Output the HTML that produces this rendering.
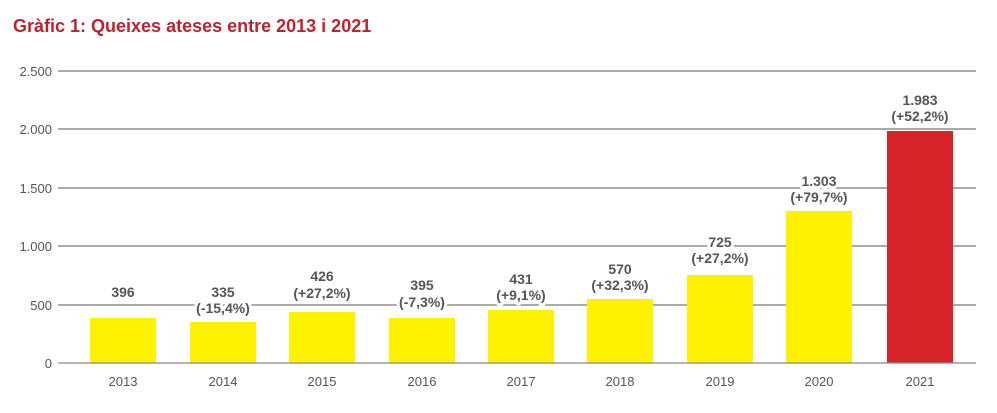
<!DOCTYPE html>
<html><head><meta charset="utf-8"><style>
html,body{margin:0;padding:0;background:#fff;}
body{width:997px;height:408px;overflow:hidden;font-family:"Liberation Sans",sans-serif;}
</style></head><body>
<svg width="997" height="408" xmlns="http://www.w3.org/2000/svg" font-family="Liberation Sans, sans-serif">
<text x="13" y="32" font-size="18" font-weight="bold" fill="#c0212f">Gràfic 1: Queixes ateses entre 2013 i 2021</text>
<g stroke="#555" stroke-width="1">
<line x1="58" y1="71" x2="976" y2="71"/>
<line x1="58" y1="129" x2="976" y2="129"/>
<line x1="58" y1="188" x2="976" y2="188"/>
<line x1="58" y1="246" x2="976" y2="246"/>
<line x1="58" y1="305" x2="976" y2="305"/>
</g>
<g font-size="13" fill="#555" text-anchor="end">
<text x="52" y="76">2.500</text>
<text x="52" y="134">2.000</text>
<text x="52" y="193">1.500</text>
<text x="52" y="251">1.000</text>
<text x="52" y="310">500</text>
<text x="52" y="368">0</text>
</g>
<g fill="#fff200">
<rect x="90" y="318" width="66" height="45"/>
<rect x="190" y="322" width="66" height="41"/>
<rect x="289" y="312" width="66" height="51"/>
<rect x="389" y="318" width="66" height="45"/>
<rect x="488" y="310" width="66" height="53"/>
<rect x="587" y="299" width="66" height="64"/>
<rect x="687" y="275" width="66" height="88"/>
<rect x="786" y="211" width="66" height="152"/>
</g>
<rect x="887" y="131" width="66" height="232" fill="#d9232a"/>
<line x1="58" y1="363" x2="976" y2="363" stroke="#888" stroke-width="1.2"/>
<g font-size="13" fill="#555" text-anchor="middle">
<text x="123" y="386">2013</text><text x="223" y="386">2014</text><text x="322" y="386">2015</text>
<text x="422" y="386">2016</text><text x="521" y="386">2017</text><text x="620" y="386">2018</text>
<text x="720" y="386">2019</text><text x="819" y="386">2020</text><text x="920" y="386">2021</text>
</g>
<g font-size="14" font-weight="bold" fill="#555" text-anchor="middle" stroke="#fff" stroke-width="6" paint-order="stroke" stroke-linejoin="round">
<text x="123" y="297">396</text>
<text x="223" y="297">335</text><text x="223" y="313">(-15,4%)</text>
<text x="322" y="281">426</text><text x="322" y="298">(+27,2%)</text>
<text x="422" y="290">395</text><text x="422" y="307">(-7,3%)</text>
<text x="521" y="284">431</text><text x="521" y="300">(+9,1%)</text>
<text x="620" y="274">570</text><text x="620" y="290">(+32,3%)</text>
<text x="720" y="247">725</text><text x="720" y="263">(+27,2%)</text>
<text x="819" y="186">1.303</text><text x="819" y="202">(+79,7%)</text>
<text x="920" y="105">1.983</text><text x="920" y="121">(+52,2%)</text>
</g>
</svg>
</body></html>
